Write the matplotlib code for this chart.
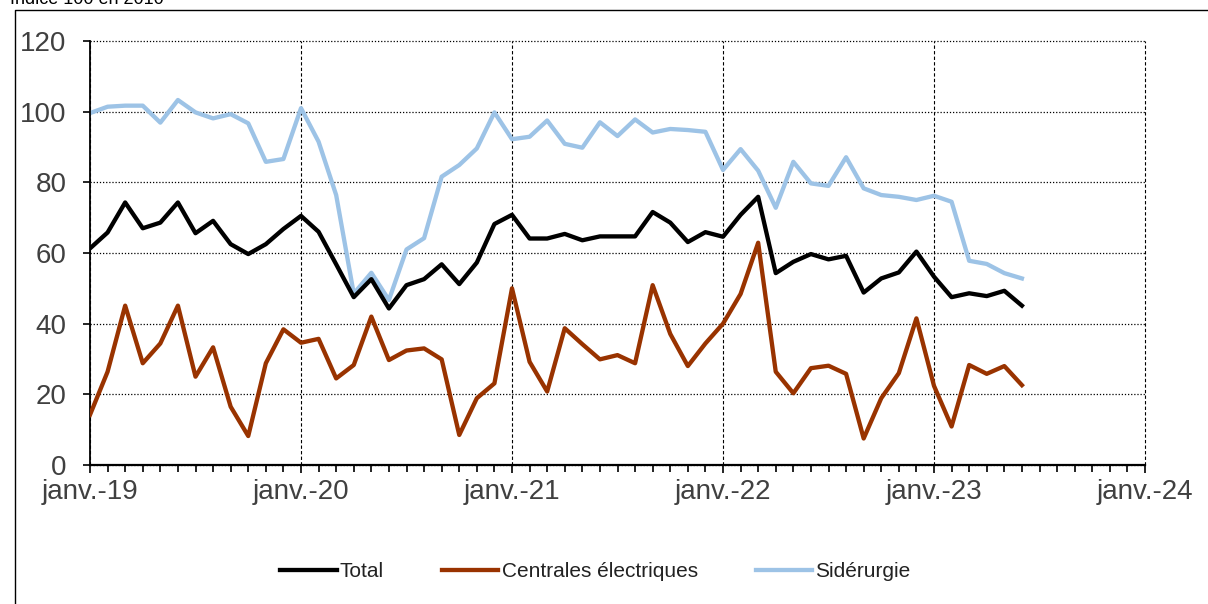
import matplotlib
matplotlib.use("Agg")
import matplotlib.pyplot as plt
import numpy as np
from matplotlib.lines import Line2D
from matplotlib.ticker import MultipleLocator

plt.rcParams['font.family'] = ['Liberation Sans', 'DejaVu Sans']

# monthly values, janv. 2019 -> juin 2023
total = [61.3, 65.8, 74.3, 67.0, 68.6, 74.3, 65.6, 69.1, 62.5, 59.7, 62.5, 66.8,
         70.5, 66.0, 56.8, 47.5, 52.6, 44.3, 50.9, 52.6, 56.8, 51.2, 57.3, 68.2,
         70.8, 64.1, 64.1, 65.4, 63.6, 64.7, 64.7, 64.7, 71.6, 68.6, 63.1, 65.9,
         64.6, 70.8, 75.9, 54.3, 57.5, 59.7, 58.2, 59.2, 48.8, 52.8, 54.5, 60.4,
         53.3, 47.5, 48.6, 47.8, 49.3, 45.1]
centrales = [14.2, 26.4, 45.1, 28.8, 34.4, 45.1, 25.0, 33.3, 16.5, 8.2, 28.8, 38.4,
             34.6, 35.7, 24.5, 28.3, 42.0, 29.7, 32.4, 33.0, 29.9, 8.5, 18.9, 23.1,
             50.0, 29.2, 20.8, 38.7, 34.2, 29.9, 31.1, 28.8, 50.9, 37.1, 28.0, 34.4,
             40.0, 48.4, 62.9, 26.4, 20.3, 27.4, 28.1, 25.8, 7.5, 18.9, 26.0, 41.5,
             22.4, 10.9, 28.3, 25.8, 28.0, 22.6]
siderurgie = [99.6, 101.4, 101.7, 101.7, 96.9, 103.3, 99.8, 98.1, 99.3, 96.7, 85.8, 86.6,
              101.0, 91.5, 76.4, 48.5, 54.4, 46.7, 61.0, 64.2, 81.6, 84.9, 89.6, 99.8,
              92.2, 92.9, 97.5, 90.9, 89.8, 97.0, 93.1, 97.8, 94.1, 95.1, 94.8, 94.3,
              83.5, 89.4, 83.3, 72.8, 85.8, 79.7, 79.0, 87.1, 78.3, 76.4, 75.9, 75.0,
              76.2, 74.5, 57.8, 56.9, 54.3, 52.8]
year_labels = ['janv.-19', 'janv.-20', 'janv.-21', 'janv.-22', 'janv.-23', 'janv.-24']

months = np.arange(len(total))

fig = plt.figure(figsize=(12.08, 6.04), dpi=100)
ax = fig.add_axes([90 / 1208, 1 - 465 / 604, 1055 / 1208, 424 / 604])

ax.plot(months, total, color='black', lw=3.1, label='Total', zorder=3)
ax.plot(months, centrales, color='#993300', lw=3.1, label='Centrales électriques', zorder=3)
ax.plot(months, siderurgie, color='#9DC3E6', lw=3.1, label='Sidérurgie', zorder=2)

ax.set_xlim(0, 60)
ax.set_ylim(0, 120)
ax.set_xticks(np.arange(0, 61, 12))
ax.set_xticklabels(year_labels)
ax.xaxis.set_minor_locator(MultipleLocator(1))
ax.set_yticks(np.arange(0, 121, 20))

ax.tick_params(axis='both', labelsize=20, labelcolor='#404040', color='black')
ax.tick_params(axis='x', which='major', length=6, width=1.2, pad=4)
ax.tick_params(axis='x', which='minor', length=5, width=1.2)
ax.tick_params(axis='y', length=5, width=1.2, pad=12)

ax.grid(axis='y', color='black', linestyle=(0, (1, 1.5)), lw=0.9, zorder=0)
ax.grid(axis='x', which='major', color='black', linestyle=(0, (3, 2)), lw=0.8, zorder=0)
# the gridlines on the top and right edges should not be half clipped
for gl in ax.get_xgridlines() + ax.get_ygridlines():
    gl.set_clip_on(False)

for side in ['top', 'right']:
    ax.spines[side].set_visible(False)
ax.spines['left'].set_linewidth(1.3)
ax.spines['bottom'].set_linewidth(1.6)

fig.legend(loc='center', bbox_to_anchor=(0.493, 0.053), ncol=3, frameon=False,
           fontsize=15, handlelength=2.7, handletextpad=0.15, columnspacing=2.8,
           labelcolor='#222222')

# chart area border (cut off by the image edges)
x0 = 15 / 1208
ytop = 1 - 10 / 604
fig.add_artist(Line2D([x0, x0, 1.01], [-0.01, ytop, ytop], color='black', lw=1.0,
                      transform=fig.transFigure))

fig.text(10 / 1208, 1 - 4 / 604, 'Indice 100 en 2010', fontsize=13, color='black',
         va='baseline', ha='left')

fig.savefig('out.png', dpi=100)
